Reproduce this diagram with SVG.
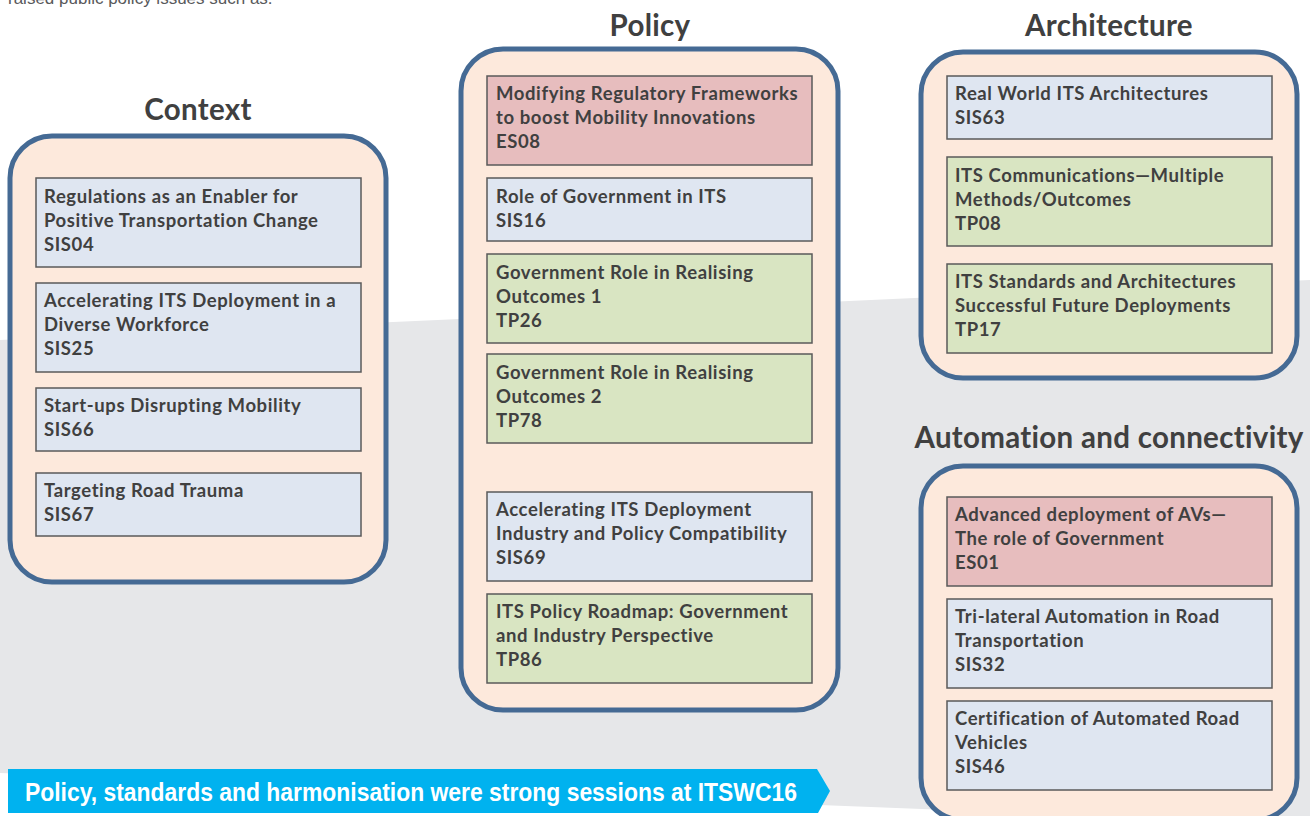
<svg xmlns="http://www.w3.org/2000/svg" width="1310" height="816" viewBox="0 0 1310 816">
<style>
.bg{fill:#e6e7e9}
.cont{fill:#fde9dc;stroke:#456a94;stroke-width:5}
.box{stroke:#5a5a5a;stroke-width:1.5}
.blue{fill:#dfe6f1}
.green{fill:#d9e5c2}
.pink{fill:#e7bdbe}
.t{font-family:Lato,"Liberation Sans",sans-serif;font-weight:bold;font-size:18.5px;letter-spacing:0.6px;fill:#404040}
.h{font-family:Lato,"Liberation Sans",sans-serif;font-weight:bold;font-size:29.5px;letter-spacing:0.3px;fill:#404040;text-anchor:middle}
.ban{font-family:"Liberation Sans Narrow","Liberation Sans",sans-serif;font-weight:bold;font-size:26px;fill:#ffffff}
.top{font-family:"Liberation Sans",sans-serif;font-size:17px;fill:#58595b}
</style>
<rect width="1310" height="816" fill="#ffffff"/>
<polygon class="bg" points="0,340 1310,280 1310,824 0,773"/>
<text class="top" x="8" y="4">raised public policy issues such as.</text>

<g id="context">
<text class="h" x="198" y="120">Context</text>
<rect class="cont" x="10" y="136" width="376" height="446" rx="42"/>
<g id="sis04"><rect class="box blue" x="36" y="178" width="325" height="89"/>
<text class="t" x="44" y="203">Regulations as an Enabler for</text><text class="t" x="44" y="227">Positive Transportation Change</text><text class="t" x="44" y="251">SIS04</text></g>
<g id="sis25"><rect class="box blue" x="36" y="283" width="325" height="89"/>
<text class="t" x="44" y="307">Accelerating ITS Deployment in a</text><text class="t" x="44" y="331">Diverse Workforce</text><text class="t" x="44" y="355">SIS25</text></g>
<g id="sis66"><rect class="box blue" x="36" y="388" width="325" height="63"/>
<text class="t" x="44" y="412">Start-ups Disrupting Mobility</text><text class="t" x="44" y="436">SIS66</text></g>
<g id="sis67"><rect class="box blue" x="36" y="473" width="325" height="63"/>
<text class="t" x="44" y="497">Targeting Road Trauma</text><text class="t" x="44" y="521">SIS67</text></g>
</g>

<g id="policy">
<text class="h" x="650" y="36">Policy</text>
<rect class="cont" x="461" y="49" width="377" height="661" rx="42"/>
<g id="es08"><rect class="box pink" x="487" y="76" width="325" height="89"/>
<text class="t" x="496" y="100">Modifying Regulatory Frameworks</text><text class="t" x="496" y="124">to boost Mobility Innovations</text><text class="t" x="496" y="148">ES08</text></g>
<g id="sis16"><rect class="box blue" x="487" y="178" width="325" height="63"/>
<text class="t" x="496" y="203">Role of Government in ITS</text><text class="t" x="496" y="227">SIS16</text></g>
<g id="tp26"><rect class="box green" x="487" y="254" width="325" height="89"/>
<text class="t" x="496" y="279">Government Role in Realising</text><text class="t" x="496" y="303">Outcomes 1</text><text class="t" x="496" y="327">TP26</text></g>
<g id="tp78"><rect class="box green" x="487" y="354" width="325" height="89"/>
<text class="t" x="496" y="379">Government Role in Realising</text><text class="t" x="496" y="403">Outcomes 2</text><text class="t" x="496" y="427">TP78</text></g>
<g id="sis69"><rect class="box blue" x="487" y="492" width="325" height="89"/>
<text class="t" x="496" y="516">Accelerating ITS Deployment</text><text class="t" x="496" y="540">Industry and Policy Compatibility</text><text class="t" x="496" y="564">SIS69</text></g>
<g id="tp86"><rect class="box green" x="487" y="594" width="325" height="89"/>
<text class="t" x="496" y="618">ITS Policy Roadmap: Government</text><text class="t" x="496" y="642">and Industry Perspective</text><text class="t" x="496" y="666">TP86</text></g>
</g>

<g id="architecture">
<text class="h" x="1109" y="36">Architecture</text>
<rect class="cont" x="921" y="52" width="376" height="326" rx="42"/>
<g id="sis63"><rect class="box blue" x="947" y="76" width="325" height="63"/>
<text class="t" x="955" y="100">Real World ITS Architectures</text><text class="t" x="955" y="124">SIS63</text></g>
<g id="tp08"><rect class="box green" x="947" y="157" width="325" height="89"/>
<text class="t" x="955" y="182">ITS Communications—Multiple</text><text class="t" x="955" y="206">Methods/Outcomes</text><text class="t" x="955" y="230">TP08</text></g>
<g id="tp17"><rect class="box green" x="947" y="264" width="325" height="89"/>
<text class="t" x="955" y="288">ITS Standards and Architectures</text><text class="t" x="955" y="312">Successful Future Deployments</text><text class="t" x="955" y="336">TP17</text></g>
</g>

<g id="automation">
<text class="h" x="1109" y="448">Automation and connectivity</text>
<rect class="cont" x="921" y="466" width="376" height="354" rx="42"/>
<g id="es01"><rect class="box pink" x="947" y="497" width="325" height="89"/>
<text class="t" x="955" y="521">Advanced deployment of AVs—</text><text class="t" x="955" y="545">The role of Government</text><text class="t" x="955" y="569">ES01</text></g>
<g id="sis32"><rect class="box blue" x="947" y="599" width="325" height="89"/>
<text class="t" x="955" y="623">Tri-lateral Automation in Road</text><text class="t" x="955" y="647">Transportation</text><text class="t" x="955" y="671">SIS32</text></g>
<g id="sis46"><rect class="box blue" x="947" y="701" width="325" height="89"/>
<text class="t" x="955" y="725">Certification of Automated Road</text><text class="t" x="955" y="749">Vehicles</text><text class="t" x="955" y="773">SIS46</text></g>
</g>

<g id="connectors"></g>

<g id="banner">
<polygon points="8,769 817,769 830,791 818,813 8,813" fill="#00b2ef"/>
<text class="ban" x="25" y="801" textLength="772" lengthAdjust="spacingAndGlyphs">Policy, standards and harmonisation were strong sessions at ITSWC16</text>
</g>
</svg>
